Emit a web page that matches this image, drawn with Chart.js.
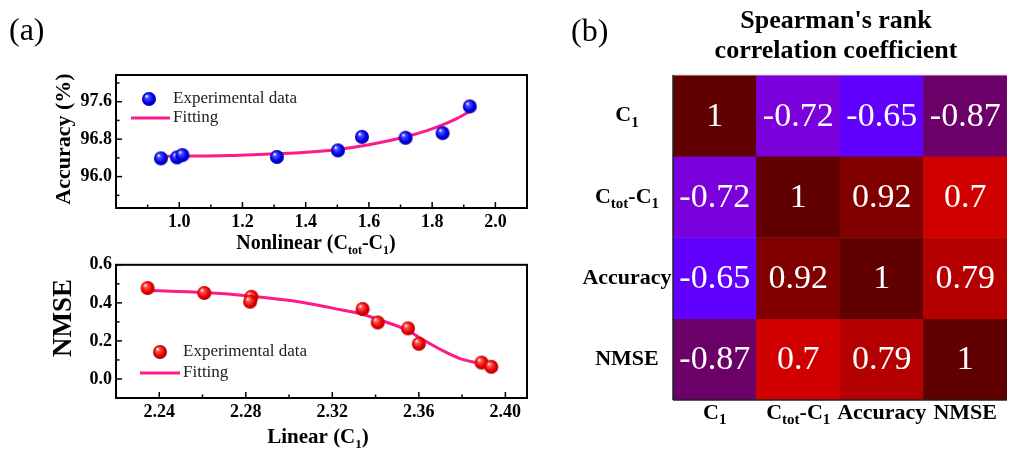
<!DOCTYPE html>
<html>
<head>
<meta charset="utf-8">
<script src="https://cdn.jsdelivr.net/npm/chart.js@4.4.1/dist/chart.umd.min.js"></script>
<style>
    html, body { margin: 0; padding: 0; background: #fff; }
    body { width: 1010px; height: 451px; position: relative; overflow: hidden; }
    canvas { position: absolute; }
    #acc-chart { left: 0; top: 0; }
    #nmse-chart { left: 0; top: 250px; }
    #heat-chart { left: 545px; top: 0; }
</style>
</head>
<body>
<canvas id="acc-chart" width="545" height="262"></canvas>
<canvas id="nmse-chart" width="545" height="201"></canvas>
<canvas id="heat-chart" width="465" height="451"></canvas>
<script>
// ---- data ----
// (a) top: accuracy vs nonlinear capacity
const nonlinearX = [0.942, 0.993, 1.010, 1.309, 1.502, 1.578, 1.716, 1.833, 1.919];
const accuracyY  = [96.39, 96.41, 96.46, 96.42, 96.56, 96.85, 96.83, 96.93, 97.50];
const accFitX = [0.935, 1.05, 1.16, 1.27, 1.38, 1.50, 1.60, 1.716, 1.804, 1.878, 1.923];
const accFitY = [96.43, 96.44, 96.45, 96.48, 96.51, 96.58, 96.68, 96.85, 97.03, 97.24, 97.41];
const accXTicks = [1.0, 1.2, 1.4, 1.6, 1.8, 2.0];
const accXMinor = [0.9, 1.1, 1.3, 1.5, 1.7, 1.9];
const accYTicks = [96.0, 96.8, 97.6];
const accYMinor = [95.6, 96.4, 97.2, 98.0];

// (a) bottom: NMSE vs linear capacity
const linearX = [2.2346, 2.2608, 2.2826, 2.2820, 2.3340, 2.3410, 2.3550, 2.3600, 2.3890, 2.3935];
const nmseY   = [0.478, 0.452, 0.432, 0.406, 0.368, 0.297, 0.266, 0.185, 0.086, 0.064];
const nmseFitX = [2.2337, 2.2608, 2.2826, 2.305, 2.3206, 2.334, 2.341, 2.355, 2.360, 2.370, 2.379, 2.389, 2.394];
const nmseFitY = [0.466, 0.454, 0.435, 0.405, 0.371, 0.340, 0.314, 0.254, 0.219, 0.155, 0.107, 0.081, 0.072];
const linXTicks = [2.24, 2.28, 2.32, 2.36, 2.40];
const linXMinor = [2.26, 2.30, 2.34, 2.38];
const nmseYTicks = [0.0, 0.2, 0.4, 0.6];
const nmseYMinor = [0.1, 0.3, 0.5];

// (b) Spearman correlation matrix
const heatLabels = ['C1', 'Ctot-C1', 'Accuracy', 'NMSE'];
const corrC1       = [1, -0.72, -0.65, -0.87];
const corrCtot     = [-0.72, 1, 0.92, 0.7];
const corrAccuracy = [-0.65, 0.92, 1, 0.79];
const corrNmse     = [-0.87, 0.7, 0.79, 1];
const corrRows = [corrC1, corrCtot, corrAccuracy, corrNmse];

// ---- styling helpers ----
const SERIF = '"Liberation Serif", "Times New Roman", serif';
Chart.defaults.font.family = SERIF;
Chart.defaults.color = '#000';

// rich labels with subscripts: [text, isSubscript]
const richLabels = {
    'C1': [['C', 0], ['1', 1]],
    'Ctot-C1': [['C', 0], ['tot', 1], ['-C', 0], ['1', 1]],
    'Accuracy': [['Accuracy', 0]],
    'NMSE': [['NMSE', 0]]
};

const cmapStops = [
    [-0.87, [106, 0, 104]],
    [-0.72, [122, 0, 220]],
    [-0.65, [96, 0, 255]],
    [0.70, [208, 0, 0]],
    [0.79, [180, 0, 0]],
    [0.92, [128, 0, 0]],
    [1.00, [96, 0, 0]]
];

function corrColor(v) {
    if (v <= cmapStops[0][0]) return 'rgb(' + cmapStops[0][1].join(',') + ')';
    for (let i = 1; i < cmapStops.length; i++) {
        const a = cmapStops[i - 1], b = cmapStops[i];
        if (v <= b[0]) {
            const t = (v - a[0]) / (b[0] - a[0]);
            const c = a[1].map((x, k) => Math.round(x + (b[1][k] - x) * t));
            return 'rgb(' + c.join(',') + ')';
        }
    }
    return 'rgb(' + cmapStops[cmapStops.length - 1][1].join(',') + ')';
}

function makeSphere(light, mid, dark) {
    const c = document.createElement('canvas');
    c.width = 16;
    c.height = 16;
    const g = c.getContext('2d');
    const grad = g.createRadialGradient(5.5, 5, 0.3, 8, 8, 7.5);
    grad.addColorStop(0, '#ffffff');
    grad.addColorStop(0.22, light);
    grad.addColorStop(0.65, mid);
    grad.addColorStop(1, dark);
    g.fillStyle = grad;
    g.beginPath();
    g.arc(8, 8, 7, 0, Math.PI * 2);
    g.fill();
    return c;
}

const blueBall = makeSphere('#5050ff', '#0000f0', '#00008c');
const redBall = makeSphere('#ff5a5a', '#f00000', '#9a0000');

function drawRich(ctx, parts, x, y, size, align, subRatio) {
    const big = 'bold ' + size + 'px ' + SERIF;
    const small = 'bold ' + Math.round(size * (subRatio || 0.62)) + 'px ' + SERIF;
    let w = 0;
    parts.forEach(p => { ctx.font = p[1] ? small : big; w += ctx.measureText(p[0]).width; });
    let cx = align === 'center' ? x - w / 2 : (align === 'right' ? x - w : x);
    ctx.textAlign = 'left';
    ctx.textBaseline = 'middle';
    parts.forEach(p => {
        ctx.font = p[1] ? small : big;
        ctx.fillText(p[0], cx, p[1] ? y + size * 0.34 : y);
        cx += ctx.measureText(p[0]).width;
    });
}

function line(ctx, x1, y1, x2, y2) {
    ctx.beginPath();
    ctx.moveTo(x1, y1);
    ctx.lineTo(x2, y2);
    ctx.stroke();
}

/**
 * Frame, inward ticks, axis titles and legend of the scatter panels
 */
const panelDeco = {
    id: 'panelDeco',
    afterDraw(chart, args, opts) {
        const ctx = chart.ctx;
        const a = chart.chartArea;
        const xs = chart.scales.x, ys = chart.scales.y;
        ctx.save();
        ctx.strokeStyle = '#000';
        ctx.lineWidth = 1.5;
        xs.ticks.forEach(t => { const px = xs.getPixelForValue(t.value); line(ctx, px, a.bottom, px, a.bottom - 6); });
        opts.xMinor.forEach(v => { const px = xs.getPixelForValue(v); line(ctx, px, a.bottom, px, a.bottom - 3.5); });
        ys.ticks.forEach(t => { const py = ys.getPixelForValue(t.value); line(ctx, a.left, py, a.left + 6, py); });
        opts.yMinor.forEach(v => { const py = ys.getPixelForValue(v); line(ctx, a.left, py, a.left + 3.5, py); });
        ctx.lineWidth = 2;
        ctx.strokeRect(a.left, a.top, a.right - a.left, a.bottom - a.top);

        ctx.fillStyle = '#000';
        drawRich(ctx, opts.xTitle, opts.xTitlePos[0], opts.xTitlePos[1], opts.xTitleSize, 'center');
        ctx.save();
        ctx.translate(opts.yTitlePos[0], opts.yTitlePos[1]);
        ctx.rotate(-Math.PI / 2);
        drawRich(ctx, opts.yTitle, 0, 0, opts.yTitleSize, 'center');
        ctx.restore();

        if (opts.panel) {
            ctx.font = '32px ' + SERIF;
            ctx.textAlign = 'left';
            ctx.textBaseline = 'middle';
            ctx.fillText(opts.panel, 9, 32);
        }

        // legend
        const lg = opts.legend;
        ctx.drawImage(opts.ball, lg.ball[0] - 8, lg.ball[1] - 8);
        ctx.strokeStyle = '#ff1a8c';
        ctx.lineWidth = 3;
        line(ctx, lg.line[0], lg.line[2], lg.line[1], lg.line[2]);
        ctx.font = '17px ' + SERIF;
        ctx.fillStyle = '#222';
        ctx.textAlign = 'left';
        ctx.textBaseline = 'middle';
        ctx.fillText('Experimental data', lg.textX, lg.ball[1]);
        ctx.fillText('Fitting', lg.textX, lg.line[2]);
        ctx.restore();
    }
};

function scatterConfig(pts, fit, ball, xRange, yRange, xTicks, yTicks, digits, deco, pad) {
    const tickFont = { size: 18, weight: 'bold', family: SERIF };
    return {
        type: 'scatter',
        data: {
            datasets: [
                {
                    label: 'Experimental data',
                    data: pts,
                    pointStyle: ball,
                    order: 0
                },
                {
                    label: 'Fitting',
                    data: fit,
                    showLine: true,
                    pointRadius: 0,
                    borderColor: '#ff1a8c',
                    borderWidth: 3,
                    cubicInterpolationMode: 'monotone',
                    order: 1
                }
            ]
        },
        options: {
            responsive: false,
            animation: false,
            layout: { padding: { top: pad.top, right: pad.right, left: 0, bottom: 0 } },
            plugins: {
                legend: { display: false },
                tooltip: { enabled: false },
                panelDeco: deco
            },
            scales: {
                x: {
                    type: 'linear',
                    min: xRange[0],
                    max: xRange[1],
                    afterBuildTicks: s => { s.ticks = xTicks.map(v => ({ value: v })); },
                    afterFit: s => { s.height = pad.xh; },
                    grid: { display: false, drawTicks: false },
                    border: { display: false },
                    ticks: { font: tickFont, padding: 4, maxRotation: 0, autoSkip: false, callback: v => v.toFixed(digits[0]) }
                },
                y: {
                    type: 'linear',
                    min: yRange[0],
                    max: yRange[1],
                    afterBuildTicks: s => { s.ticks = yTicks.map(v => ({ value: v })); },
                    afterFit: s => { s.width = 116; },
                    grid: { display: false, drawTicks: false },
                    border: { display: false },
                    ticks: { font: tickFont, padding: 4, autoSkip: false, callback: v => v.toFixed(digits[1]) }
                }
            }
        },
        plugins: [panelDeco]
    };
}

const accPts = nonlinearX.map((x, i) => ({ x: x, y: accuracyY[i] }));
const accFit = accFitX.map((x, i) => ({ x: x, y: accFitY[i] }));
const nmsePts = linearX.map((x, i) => ({ x: x, y: nmseY[i] }));
const nmseFit = nmseFitX.map((x, i) => ({ x: x, y: nmseFitY[i] }));

new Chart(document.getElementById('acc-chart'), scatterConfig(
    accPts, accFit, blueBall, [0.8, 2.1], [95.33, 98.17], accXTicks, accYTicks, [1, 1],
    {
        panel: '(a)',
        xMinor: accXMinor, yMinor: accYMinor,
        xTitle: [['Nonlinear (C', 0], ['tot', 1], ['-C', 0], ['1', 1], [')', 0]],
        yTitle: [['Accuracy (%)', 0]],
        xTitleSize: 20, yTitleSize: 22,
        xTitlePos: [316, 244], yTitlePos: [64, 139],
        ball: blueBall,
        legend: { ball: [149, 99], line: [131, 170, 118], textX: 173 }
    },
    { top: 75, right: 18, xh: 54 }
));

new Chart(document.getElementById('nmse-chart'), scatterConfig(
    nmsePts, nmseFit, redBall, [2.22, 2.41], [-0.1, 0.6], linXTicks, nmseYTicks, [2, 1],
    {
        panel: null,
        xMinor: linXMinor, yMinor: nmseYMinor,
        xTitle: [['Linear (C', 0], ['1', 1], [')', 0]],
        yTitle: [['NMSE', 0]],
        xTitleSize: 21, yTitleSize: 27,
        xTitlePos: [318, 188], yTitlePos: [64, 68],
        ball: redBall,
        legend: { ball: [160, 102], line: [140, 180, 123], textX: 183 }
    },
    { top: 13, right: 18, xh: 53 }
));

/**
 * Heatmap: stacked unit bars, coloured by the correlation value
 */
const heatDeco = {
    id: 'heatDeco',
    afterDatasetsDraw(chart) {
        const ctx = chart.ctx;
        const a = chart.chartArea;
        const xs = chart.scales.x, ys = chart.scales.y;
        ctx.save();
        // cell values
        ctx.fillStyle = '#fff';
        ctx.font = '34px ' + SERIF;
        ctx.textAlign = 'center';
        ctx.textBaseline = 'middle';
        chart.data.datasets.forEach((ds, i) => {
            chart.getDatasetMeta(i).data.forEach((bar, j) => {
                ctx.fillText(String(ds.corr[j]), bar.x, (bar.y + bar.base) / 2 + 1);
            });
        });
        // frame
        ctx.strokeStyle = '#cfcfcf';
        ctx.lineWidth = 1;
        line(ctx, a.left, a.top, a.right, a.top);
        ctx.strokeStyle = '#222';
        ctx.lineWidth = 1.5;
        line(ctx, a.left, a.top, a.left, a.bottom);
        line(ctx, a.left, a.bottom, a.right, a.bottom);
        // axis labels
        ctx.fillStyle = '#000';
        heatLabels.forEach((lab, i) => {
            drawRich(ctx, richLabels[lab], 82, ys.getPixelForValue(i + 0.5), 22, 'center', 0.68);
            drawRich(ctx, richLabels[lab], xs.getPixelForValue(i), 413, 22, 'center', 0.68);
        });
        // title
        ctx.font = 'bold 26px ' + SERIF;
        ctx.textAlign = 'center';
        ctx.fillText("Spearman's rank", 291, 21);
        ctx.fillText('correlation coefficient', 291, 51);
        ctx.font = '32px ' + SERIF;
        ctx.textAlign = 'left';
        ctx.fillText('(b)', 26, 33);
        ctx.restore();
    }
};

new Chart(document.getElementById('heat-chart'), {
    type: 'bar',
    data: {
        labels: heatLabels,
        datasets: corrRows.map((row, i) => ({
            label: heatLabels[i],
            data: row.map(() => 1),
            corr: row,
            backgroundColor: row.map(corrColor),
            borderWidth: 0,
            barPercentage: 1,
            categoryPercentage: 1,
            stack: 'cells'
        }))
    },
    options: {
        responsive: false,
        animation: false,
        layout: { padding: { left: 128, right: 3, top: 75, bottom: 51 } },
        plugins: {
            legend: { display: false },
            tooltip: { enabled: false }
        },
        scales: {
            x: { stacked: true, display: false },
            y: { stacked: true, display: false, min: 0, max: 4, reverse: true }
        }
    },
    plugins: [heatDeco]
});
</script>
</body>
</html>
